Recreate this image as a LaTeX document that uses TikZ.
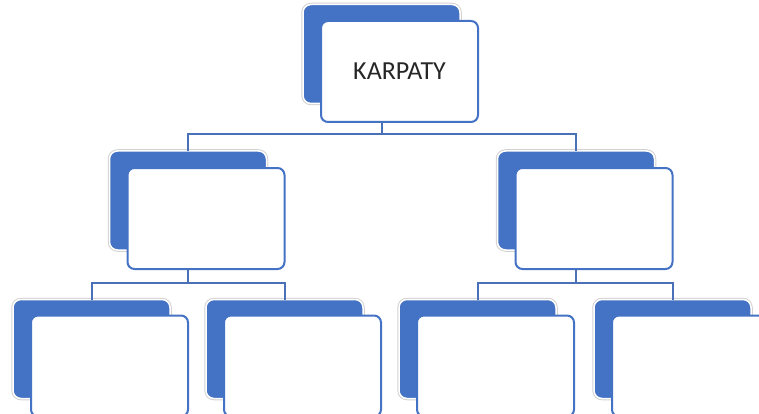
\documentclass[tikz,border=0pt]{standalone}
\usepackage{fontspec}
\setmainfont{Carlito}
\usepackage{xcolor}
\usepackage{tikz}
\tikzset{>=latex}
\definecolor{boxblue}{HTML}{4472C4}
\definecolor{lineblue}{HTML}{4A70B8}

\begin{document}
\begin{tikzpicture}[x=1pt, y=-1pt,
  back/.style={rectangle, rounded corners=8pt, fill=boxblue, draw=white, line width=1.5pt,
    preaction={draw=gray!35, line width=3.5pt},
    minimum width=157pt, minimum height=99pt, inner sep=0pt, outer sep=0pt},
  front/.style={rectangle, rounded corners=7pt, fill=white, draw=boxblue, line width=2pt,
    minimum width=157pt, minimum height=101pt, inner sep=0pt, outer sep=0pt,
    font=\fontsize{26}{30}\selectfont, text=black!85},
  conn/.style={draw=lineblue, line width=2pt}]

\useasboundingbox (0,0) rectangle (759,414);
\clip (0,0) rectangle (759,414);

% Back boxes
\node[back] (topB) at (381.5,54) {};
\node[back] (midLB) at (188,200.5) {};
\node[back] (midRB) at (576,200.5) {};
\node[back] (botAB) at (91.5,349) {};
\node[back] (botBB) at (284.5,349) {};
\node[back] (botCB) at (477.5,349) {};
\node[back] (botDB) at (672.5,349) {};

% Front boxes
\node[front] (top) at (399.5,71.5) {KARPATY};
\node[front] (midL) at (206,218.5) {};
\node[front] (midR) at (594,218.5) {};
\node[front] (botA) at (109.5,366) {};
\node[front] (botB) at (302.5,366) {};
\node[front] (botC) at (495.5,366) {};
\node[front] (botD) at (690.5,366) {};

% Connectors
\coordinate (jTop) at (0,134);
\coordinate (jBot) at (0,283);
\draw[conn] (topB |- top.south) -- (topB |- jTop) -| (midLB.north);
\draw[conn] (topB |- jTop) -| (midRB.north);
\draw[conn] (midLB |- midL.south) -- (midLB |- jBot) -| (botAB.north);
\draw[conn] (midLB |- jBot) -| (botBB.north);
\draw[conn] (midRB |- midR.south) -- (midRB |- jBot) -| (botCB.north);
\draw[conn] (midRB |- jBot) -| (botDB.north);

\end{tikzpicture}
\end{document}
